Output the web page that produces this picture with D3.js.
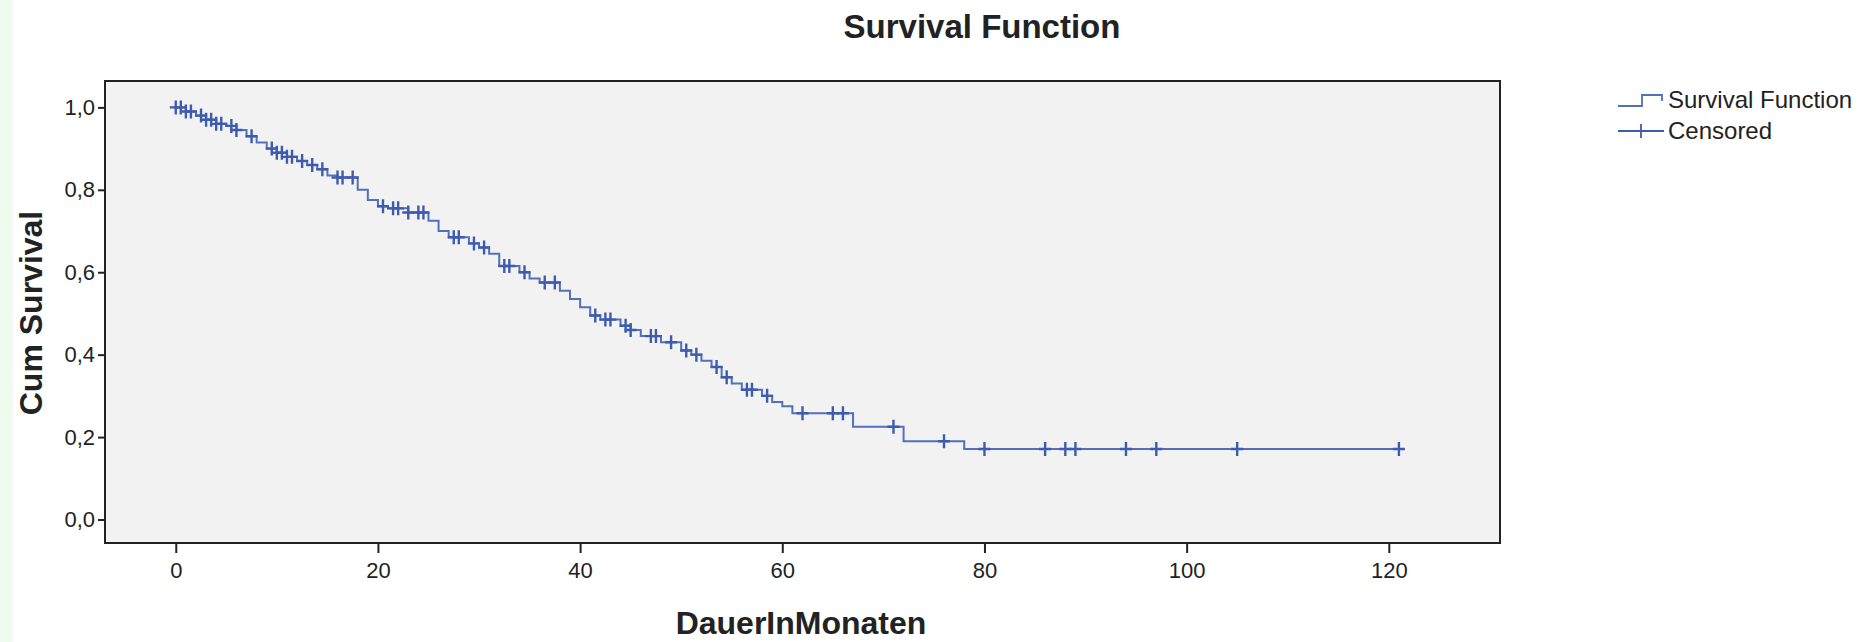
<!DOCTYPE html>
<html>
<head>
<meta charset="utf-8">
<script src="https://cdn.jsdelivr.net/npm/d3@7"></script>
<style>
  body { margin: 0; background: #fff; }
  svg { display: block; font-family: "Liberation Sans", Arial, sans-serif; }
  .tick text { font-size: 22px; fill: #222; }
  .tick line { stroke: #222; stroke-width: 2px; }
  .domain { display: none; }
</style>
</head>
<body>
<script>
// data: event times (months) and survival after each event
var eventTimes = [0, 1, 2, 3, 4, 5, 6, 7, 8, 9, 10, 11, 12, 13, 14, 15, 16, 18, 19, 20,
                  21, 23, 25, 26, 27, 29, 30, 31, 32, 34, 35, 36, 38, 39, 40, 41, 42, 44, 45, 46,
                  48, 50, 51, 52, 53, 54, 55, 56, 58, 59, 60, 61, 67, 72, 78];
var survival   = [1.0, 0.99, 0.98, 0.97, 0.96, 0.955, 0.945, 0.93, 0.915, 0.90, 0.89, 0.88, 0.87, 0.86, 0.85, 0.835, 0.83, 0.80, 0.775, 0.76,
                  0.755, 0.745, 0.725, 0.70, 0.685, 0.67, 0.66, 0.645, 0.615, 0.60, 0.585, 0.575, 0.555, 0.535, 0.515, 0.495, 0.485, 0.47, 0.46, 0.445,
                  0.43, 0.41, 0.40, 0.385, 0.37, 0.345, 0.33, 0.315, 0.30, 0.285, 0.275, 0.258, 0.225, 0.19, 0.171];
var censoredTimes = [0, 0.5, 1, 1.5, 2.5, 3, 3.5, 4, 4.5, 5.5, 6, 7.5, 9.5, 10, 10.5, 11, 11.5, 12.5, 13.5, 14.5, 16, 16.5, 17.5,
                     20.5, 21.5, 22, 23, 24, 24.5, 27.5, 28, 29.5, 30.5, 32.5, 33, 34.5, 36.5, 37.5, 41.5, 42.5, 43, 44.5, 45,
                     47, 47.5, 49, 50.5, 51.5, 53.5, 54.5, 56.5, 57, 58.5, 62, 65, 66, 71, 76, 80, 86, 88, 89, 94, 97, 105, 121];
var lastTime = 121;
var xTicks = [0, 20, 40, 60, 80, 100, 120];
var yTicks = [0, 0.2, 0.4, 0.6, 0.8, 1.0];

// set the dimensions and margins of the graph
var margin = {top: 81, right: 373, bottom: 99, left: 105},
    width = 1873 - margin.left - margin.right,
    height = 642 - margin.top - margin.bottom;

var lineColor = "#5270bd", markColor = "#3f5bad";

var x = d3.scaleLinear().domain([-7, 131]).range([0, width]);
var y = d3.scaleLinear().domain([-0.057, 1.064]).range([height, 0]);

var root = d3.select("body").append("svg")
    .attr("width", 1873)
    .attr("height", 642);

// light green strip on the left edge
root.append("rect")
    .attr("x", 0).attr("y", 0)
    .attr("width", 13).attr("height", 642)
    .attr("fill", "#effbef");

var svg = root.append("g")
    .attr("transform", "translate(" + margin.left + "," + margin.top + ")");

// plot background
svg.append("rect")
    .attr("width", width)
    .attr("height", height)
    .attr("fill", "#f2f2f2");

// survival at a given time (step function lookup)
function survAt(t) {
  var i = d3.bisectRight(eventTimes, t) - 1;
  return survival[Math.max(i, 0)];
}

var steps = eventTimes.map(function(t, i) { return [t, survival[i]]; });
steps.push([lastTime, survival[survival.length - 1]]);

var valueline = d3.line()
    .curve(d3.curveStepAfter)
    .x(function(d) { return x(d[0]); })
    .y(function(d) { return y(d[1]); });

svg.append("path")
    .datum(steps)
    .attr("fill", "none")
    .attr("stroke", lineColor)
    .attr("stroke-width", 2)
    .attr("d", valueline);

// censored marks
svg.selectAll(".cens")
    .data(censoredTimes)
  .enter().append("path")
    .attr("class", "cens")
    .attr("transform", function(d) { return "translate(" + x(d) + "," + y(survAt(d)) + ")"; })
    .attr("d", "M-6,0H6M0,-7V7")
    .attr("stroke", markColor)
    .attr("stroke-width", 2.4)
    .attr("fill", "none");

// axes
svg.append("g")
    .call(d3.axisLeft(y).tickValues(yTicks).tickSize(7).tickPadding(3)
      .tickFormat(function(d) { return d3.format(".1f")(d).replace(".", ","); }));

svg.append("g")
    .attr("transform", "translate(0," + height + ")")
    .call(d3.axisBottom(x).tickValues(xTicks).tickSize(10).tickPadding(9));

// frame
svg.append("rect")
    .attr("width", width)
    .attr("height", height)
    .attr("fill", "none")
    .attr("stroke", "#222")
    .attr("stroke-width", 2);

// title and axis labels
root.append("text")
    .attr("x", 982).attr("y", 38)
    .attr("text-anchor", "middle")
    .style("font-size", "33px").style("font-weight", "bold").style("fill", "#222")
    .text("Survival Function");

root.append("text")
    .attr("x", 801).attr("y", 634)
    .attr("text-anchor", "middle")
    .style("font-size", "32px").style("font-weight", "bold").style("fill", "#222")
    .text("DauerInMonaten");

root.append("text")
    .attr("transform", "translate(42,313) rotate(-90)")
    .attr("text-anchor", "middle")
    .style("font-size", "32px").style("font-weight", "bold").style("fill", "#222")
    .text("Cum Survival");

// legend
var legend = root.append("g").attr("transform", "translate(1618,0)");
legend.append("path")
    .attr("d", "M0,106H24V95H44V101")
    .attr("fill", "none").attr("stroke", lineColor).attr("stroke-width", 1.8);
legend.append("path")
    .attr("d", "M0,131H46M23,124V138")
    .attr("fill", "none").attr("stroke", markColor).attr("stroke-width", 1.8);
legend.append("text")
    .attr("x", 50).attr("y", 108)
    .style("font-size", "24px").style("fill", "#222")
    .text("Survival Function");
legend.append("text")
    .attr("x", 50).attr("y", 139)
    .style("font-size", "24px").style("fill", "#222")
    .text("Censored");
</script>
</body>
</html>
